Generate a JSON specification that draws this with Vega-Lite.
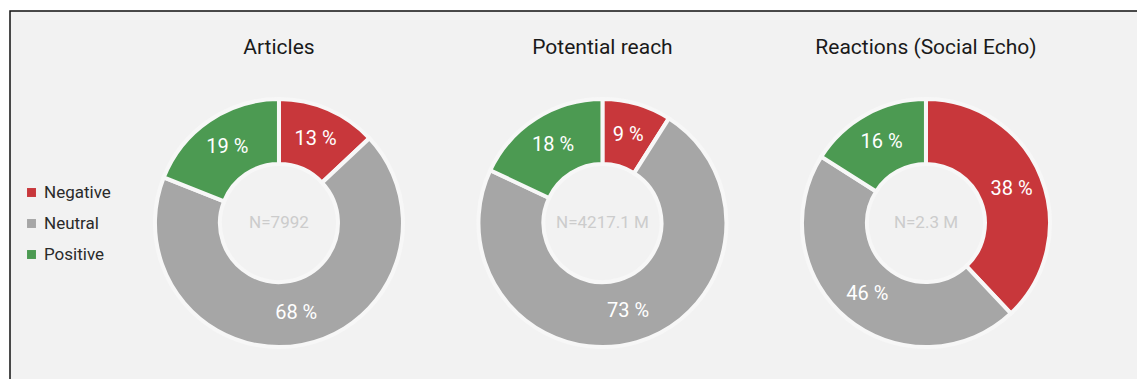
{
  "$schema": "https://vega.github.io/schema/vega-lite/v6.json",
  "width": 1137,
  "height": 379,
  "autosize": {"type": "fit", "contains": "padding"},
  "padding": {"left": 10, "top": 11, "right": -2, "bottom": -2},
  "background": "white",
  "config": {
    "view": {"fill": "#f2f2f2", "stroke": "#111111", "strokeWidth": 1.5},
    "font": "Roboto",
    "legend": {
      "orient": "none",
      "legendX": 13,
      "legendY": 173,
      "symbolType": "square",
      "symbolSize": 80,
      "symbolStrokeWidth": 0,
      "labelFontSize": 17,
      "labelColor": "#2a2a2a",
      "labelFont": "Roboto",
      "labelFontWeight": 400,
      "rowPadding": 13,
      "labelOffset": 4,
      "padding": 0
    }
  },
  "datasets": {
    "slices": [
      {"panel": "Articles", "sentiment": "Negative", "value": 13, "label": "13 %"},
      {"panel": "Articles", "sentiment": "Neutral", "value": 68, "label": "68 %"},
      {"panel": "Articles", "sentiment": "Positive", "value": 19, "label": "19 %"},
      {"panel": "Potential reach", "sentiment": "Negative", "value": 9, "label": "9 %"},
      {"panel": "Potential reach", "sentiment": "Neutral", "value": 73, "label": "73 %"},
      {"panel": "Potential reach", "sentiment": "Positive", "value": 18, "label": "18 %"},
      {"panel": "Reactions (Social Echo)", "sentiment": "Negative", "value": 38, "label": "38 %"},
      {"panel": "Reactions (Social Echo)", "sentiment": "Neutral", "value": 46, "label": "46 %"},
      {"panel": "Reactions (Social Echo)", "sentiment": "Positive", "value": 16, "label": "16 %"}
    ],
    "panels": [
      {"panel": "Articles", "n": "N=7992"},
      {"panel": "Potential reach", "n": "N=4217.1 M"},
      {"panel": "Reactions (Social Echo)", "n": "N=2.3 M"}
    ]
  },
  "layer": [
    {
      "data": {"name": "slices"},
      "transform": [
        {"stack": "value", "groupby": ["panel"], "sort": [{"field": "sentiment", "order": "ascending"}], "as": ["v0", "v1"]}
      ],
      "mark": {"type": "arc", "radius": 124, "radius2": 59, "stroke": "#f7f7f7", "strokeWidth": 4},
      "encoding": {
        "x": {"field": "panel", "type": "nominal", "axis": null,
              "scale": {"type": "point", "domain": ["Articles", "Potential reach", "Reactions (Social Echo)"], "padding": 0.745, "align": 0.558}},
        "y": {"datum": "donut", "type": "nominal", "axis": null,
              "scale": {"type": "point", "domain": ["title", "donut"], "padding": 0.557, "align": 0.19}},
        "theta": {"field": "v0", "type": "quantitative", "scale": {"domain": [0, 100]}},
        "theta2": {"field": "v1"},
        "color": {"field": "sentiment", "type": "nominal",
                  "scale": {"domain": ["Negative", "Neutral", "Positive"], "range": ["#c8373b", "#a6a6a6", "#4c9a52"]},
                  "legend": {"title": null}}
      }
    },
    {
      "data": {"name": "slices"},
      "transform": [
        {"stack": "value", "groupby": ["panel"], "sort": [{"field": "sentiment", "order": "ascending"}], "as": ["v0", "v1"]},
        {"fold": ["v0", "v1"], "as": ["edge", "t"]},
        {"aggregate": [{"op": "mean", "field": "t", "as": "tm"}], "groupby": ["panel", "sentiment", "label"]}
      ],
      "mark": {"type": "text", "radius": 92, "fontSize": 20, "fontWeight": 400, "color": "white"},
      "encoding": {
        "x": {"field": "panel", "type": "nominal"},
        "y": {"datum": "donut", "type": "nominal"},
        "theta": {"field": "tm", "type": "quantitative"},
        "text": {"field": "label"}
      }
    },
    {
      "data": {"name": "panels"},
      "mark": {"type": "text", "fontSize": 17, "fontWeight": 400, "color": "#cccccc"},
      "encoding": {
        "x": {"field": "panel", "type": "nominal"},
        "y": {"datum": "donut", "type": "nominal"},
        "text": {"field": "n"}
      }
    },
    {
      "data": {"name": "panels"},
      "mark": {"type": "text", "fontSize": 21, "fontWeight": 400, "color": "#1a1a1a"},
      "encoding": {
        "x": {"field": "panel", "type": "nominal"},
        "y": {"datum": "title", "type": "nominal"},
        "text": {"field": "panel"}
      }
    }
  ]
}
